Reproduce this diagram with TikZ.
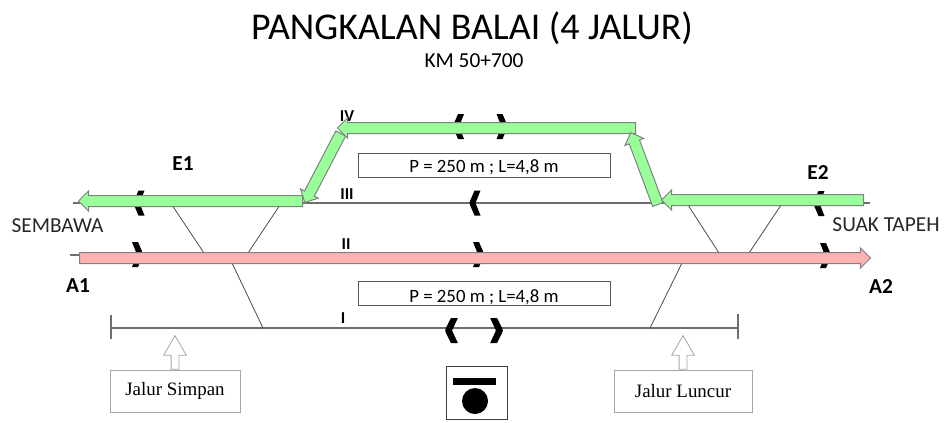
\documentclass[tikz,border=0pt]{standalone}
\usepackage{fontspec}
\setmainfont{Carlito}
\newfontfamily\serifbox{Liberation Serif}
\usetikzlibrary{calc,shapes.arrows}
\definecolor{trackgray}{HTML}{6E6E6E}
\definecolor{greenfill}{HTML}{99FF99}
\definecolor{pinkfill}{HTML}{FFB3B3}
\tikzset{track/.style={trackgray, line width=1pt}}
\tikzset{switchline/.style={black!70, line width=0.6pt}}
\tikzset{blockarrow/.style={single arrow, draw=gray, line width=0.75pt, inner sep=0pt, text height=7.5pt, text depth=0pt, text width=0pt, single arrow head extend=3.4pt, single arrow head indent=0pt}}
\tikzset{greenarrow/.style={blockarrow, fill=greenfill}}
\tikzset{pinkarrow/.style={blockarrow, fill=pinkfill}}
\tikzset{hollowarrow/.style={blockarrow, fill=white, draw=black!35, line width=0.6pt, text height=5.25pt, single arrow head extend=5.6pt, single arrow tip angle=60}}
\tikzset{infobox/.style={draw=black!65, line width=0.7pt, inner sep=0pt, minimum width=189pt, minimum height=18pt}}
\tikzset{infotext/.style={inner sep=0pt, font=\fontsize{14.1}{15}\selectfont}}
\tikzset{notebox/.style={draw=black!35, fill=white, line width=0.6pt, inner sep=0pt, minimum height=31.5pt, font=\serifbox\fontsize{14.2}{16}\selectfont}}
\tikzset{boldlabel/.style={font=\fontsize{16}{18}\selectfont\bfseries, inner sep=0pt}}
\tikzset{tracklabel/.style={font=\fontsize{12.5}{14}\selectfont\bfseries, inner sep=0pt}}
\tikzset{placelabel/.style={font=\fontsize{16}{18}\selectfont, text=black!85, inner sep=0pt}}
\tikzset{chevl/.pic={\fill (5.5,-12.5) -- (-0.5,-12.5) -- (-4.8,-2.5) -- (-5.5,0) -- (-4.8,2.5) -- (-0.5,12.5) -- (5.5,12.5) -- (0.5,0) -- cycle;}}
\tikzset{chevr/.pic={\fill (-5.5,-12.5) -- (0.5,-12.5) -- (4.8,-2.5) -- (5.5,0) -- (4.8,2.5) -- (0.5,12.5) -- (-5.5,12.5) -- (-0.5,0) -- cycle;}}
\newcommand{\blockline}[3]{\path let \p1=($(#3)-(#2)$), \n1={veclen(\x1,\y1)}, \n2={atan2(\y1,\x1)} in node (#2-#3) [#1, anchor=tail, rotate=\n2, minimum height=\n1] at (#2) {};}

\begin{document}
\begin{tikzpicture}[x=0.75pt, y=-0.75pt]
    \useasboundingbox (0, 0) rectangle (944, 422);
    \node (title) at (472, 28) {\fontsize{28.4}{30}\selectfont PANGKALAN BALAI (4 JALUR)};
    \node (km) at (474, 61) {\fontsize{16}{18}\selectfont KM 50+700};

    \coordinate (t3w) at (73, 203);
    \coordinate (t3e) at (870, 203);
    \coordinate (t2w) at (70, 255);
    \coordinate (t2e) at (100, 255);
    \coordinate (t1w) at (111, 328);
    \coordinate (t1e) at (738, 328);
    \coordinate (t1wa) at (111, 315);
    \coordinate (t1wb) at (111, 339);
    \coordinate (t1ea) at (738, 314);
    \coordinate (t1eb) at (738, 339);
    \draw [track] (t3w) -- (t3e);
    \draw [track] (t2w) -- (t2e);
    \draw [track] (t1w) -- (t1e);
    \draw [track] (t1wa) -- (t1wb);
    \draw [track] (t1ea) -- (t1eb);

    \coordinate (s1) at (172, 205);
    \coordinate (s2) at (204, 253);
    \coordinate (s3) at (280, 205);
    \coordinate (s4) at (248, 253);
    \coordinate (s5) at (232, 263);
    \coordinate (s6) at (263, 328);
    \coordinate (s7) at (688, 205);
    \coordinate (s8) at (719, 253);
    \coordinate (s9) at (781, 205);
    \coordinate (s10) at (749, 253);
    \coordinate (s11) at (682, 263);
    \coordinate (s12) at (650, 328);
    \draw [switchline] (s1) -- (s2);
    \draw [switchline] (s3) -- (s4);
    \draw [switchline] (s5) -- (s6);
    \draw [switchline] (s7) -- (s8);
    \draw [switchline] (s9) -- (s10);
    \draw [switchline] (s11) -- (s12);

    \pic at (139, 203) {chevl};
    \pic at (819, 203.5) {chevl};
    \pic at (475, 203) {chevl};
    \pic at (458.5, 126.5) {chevl};
    \pic at (502, 126.5) {chevr};
    \pic at (137.5, 254.5) {chevr};
    \pic at (478.5, 254.5) {chevr};
    \pic at (825.5, 255.5) {chevr};
    \pic [xscale=1.15] at (451.5, 330.5) {chevl};
    \pic [xscale=1.15] at (496.5, 330.5) {chevr};

    \coordinate (e1tail) at (303, 201);
    \coordinate (e1tip) at (79, 201);
    \coordinate (dltail) at (341, 133);
    \coordinate (dltip) at (305, 202);
    \coordinate (ivtail) at (636, 128);
    \coordinate (ivtip) at (338, 128);
    \coordinate (drtail) at (658, 205);
    \coordinate (drtip) at (631, 133);
    \coordinate (e2tail) at (864, 200);
    \coordinate (e2tip) at (662, 200);
    \coordinate (a1tail) at (79, 258);
    \coordinate (a2tip) at (870, 258);
    \node (labelIV) [tracklabel] at (347, 116) {IV};
    \blockline{pinkarrow}{a1tail}{a2tip}
    \blockline{greenarrow}{e1tail}{e1tip}
    \blockline{greenarrow}{dltail}{dltip}
    \blockline{greenarrow}{ivtail}{ivtip}
    \blockline{greenarrow}{drtail}{drtip}
    \blockline{greenarrow}{e2tail}{e2tip}

    \node (info1) [infobox] at (484, 165) {};
    \node (info2) [infobox] at (484, 293) {};
    \node (info1text) [infotext] at (484, 167.5) {P = 250 m ; L=4,8 m};
    \node (info2text) [infotext] at (484, 297) {P = 250 m ; L=4,8 m};

    \node (labelIII) [tracklabel] at (347, 194) {III};
    \node (labelII) [tracklabel] at (346, 244) {II};
    \node (labelI) [tracklabel] at (343, 318) {I};
    \node (e1) [boldlabel] at (183, 164) {E1};
    \node (e2) [boldlabel] at (818, 172) {E2};
    \node (a1) [boldlabel] at (78, 286) {A1};
    \node (a2) [boldlabel] at (881, 286) {A2};
    \node (sembawa) [placelabel] at (57.5, 226) {SEMBAWA};
    \node (suak) [placelabel] at (886, 225) {SUAK TAPEH};

    \node (simpan) [notebox, minimum width=97.5pt] at (175, 391) {Jalur Simpan};
    \node (luncur) [notebox, minimum width=103.5pt] at (683, 391) {Jalur Luncur};
    \coordinate (simpantip) at (175, 336);
    \coordinate (luncurtip) at (683, 336);
    \blockline{hollowarrow}{simpan.north}{simpantip}
    \blockline{hollowarrow}{luncur.north}{luncurtip}

    \node (house) [draw=black!75, line width=0.7pt, inner sep=0pt, minimum width=45.75pt, minimum height=39.75pt] at (476.5, 392.5) {};
    \coordinate (barw) at (453, 381.5);
    \coordinate (bare) at (496, 381.5);
    \draw [line width=5pt] (barw) -- (bare);
    \fill (475, 401) circle (13);
\end{tikzpicture}
\end{document}
